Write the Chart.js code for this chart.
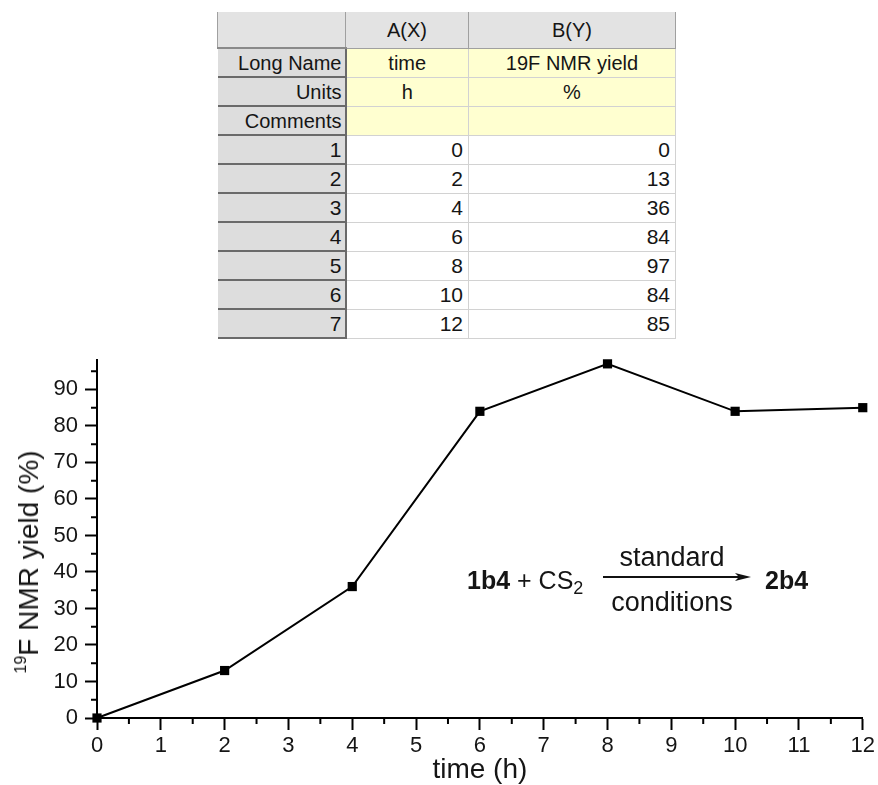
<!DOCTYPE html>
<html>
<head>
<meta charset="utf-8">
<script src="https://cdn.jsdelivr.net/npm/chart.js@4.4.1/dist/chart.umd.min.js"></script>
<style>
  html, body { margin: 0; padding: 0; background: #fff; }
  body { width: 878px; height: 785px; position: relative; overflow: hidden;
         font-family: "Liberation Sans", Arial, sans-serif; color: #151515; }

  /* worksheet */
  #sheet { position: absolute; left: 217px; top: 12px; border-collapse: collapse;
           table-layout: fixed; font-size: 20px; }
  #sheet td { padding: 0 5px; height: 27px; line-height: 20px; white-space: nowrap;
              border: 1px solid #d2d2d2; }
  #sheet tr.head td { height: 35px; background: #e3e3e3; text-align: center;
                      border: 1px solid #a0a0a0; border-top: none; }
  #sheet td.rh { background: #dddddd; text-align: right; padding-right: 3px;
                 border-right: 2px solid #6a6a6a; border-bottom: 2px solid #6a6a6a;
                 border-left: none; }
  #sheet tr.head td.rh { border-bottom: 2px solid #8a8a8a; }
  #sheet td.meta { background: #ffffd0; text-align: center; }
  #sheet td.num { background: #fff; text-align: right; font-size: 21px; }

  #chartBox { position: absolute; left: 0; top: 340px; width: 878px; height: 445px; }

  #ytitle { position: absolute; left: 29px; top: 562px; white-space: nowrap;
            font-size: 28px; transform: translate(-50%, -50%) rotate(-90deg); }
  #ytitle sup { font-size: 16px; vertical-align: 12px; line-height: 0; }

  .rx { position: absolute; font-size: 25px; line-height: 30px; white-space: nowrap; }
  .rx sub { font-size: 18px; vertical-align: -5px; line-height: 0; }
  .cond { position: absolute; width: 150px; text-align: center; font-size: 27px;
          line-height: 30px; }
</style>
</head>
<body>

<table id="sheet">
  <colgroup><col style="width:128px"><col style="width:123px"><col style="width:207px"></colgroup>
  <tbody id="sheetBody"></tbody>
</table>

<div id="chartBox"><canvas id="chart" width="878" height="445"></canvas></div>

<div id="ytitle"><sup>19</sup>F NMR yield (%)</div>

<div class="rx" style="left:467px; top:565px;"><b>1b4</b> + CS<sub>2</sub></div>
<div class="cond" style="left:597px; top:542px;">standard</div>
<svg style="position:absolute; left:603px; top:571px;" width="150" height="12">
  <line x1="0" y1="6" x2="140" y2="6" stroke="#111" stroke-width="2"/>
  <polygon points="132,2 148,6 132,10 136,6" fill="#111"/>
</svg>
<div class="cond" style="left:597px; top:587px;">conditions</div>
<div class="rx" style="left:765px; top:565px;"><b>2b4</b></div>

<script>
const colNames = ['A(X)', 'B(Y)'];
const longNames = ['time', '19F NMR yield'];
const unitNames = ['h', '%'];
const timeH = [0, 2, 4, 6, 8, 10, 12];
const yieldPct = [0, 13, 36, 84, 97, 84, 85];

const xTicks = [0, 1, 2, 3, 4, 5, 6, 7, 8, 9, 10, 11, 12];
const yTicks = [0, 10, 20, 30, 40, 50, 60, 70, 80, 90];
const xMinor = [0.5, 1.5, 2.5, 3.5, 4.5, 5.5, 6.5, 7.5, 8.5, 9.5, 10.5, 11.5];
const yMinor = [5, 15, 25, 35, 45, 55, 65, 75, 85, 95];

// worksheet rows
const body = document.getElementById('sheetBody');
let html = `<tr class="head"><td class="rh"></td><td>${colNames[0]}</td><td>${colNames[1]}</td></tr>`;
html += `<tr><td class="rh">Long Name</td><td class="meta">${longNames[0]}</td><td class="meta">${longNames[1]}</td></tr>`;
html += `<tr><td class="rh">Units</td><td class="meta">${unitNames[0]}</td><td class="meta">${unitNames[1]}</td></tr>`;
html += `<tr><td class="rh">Comments</td><td class="meta"></td><td class="meta"></td></tr>`;
timeH.forEach((t, i) => {
  html += `<tr><td class="rh" style="font-size:21px">${i + 1}</td><td class="num">${t}</td><td class="num">${yieldPct[i]}</td></tr>`;
});
body.innerHTML = html;

// short inner ticks between the labelled ones
const minorTicks = {
  id: 'minorTicks',
  afterDraw(chart) {
    const { ctx, scales: { x, y } } = chart;
    ctx.save();
    ctx.strokeStyle = '#000';
    ctx.lineWidth = 2;
    ctx.beginPath();
    xMinor.forEach(v => {
      const px = x.getPixelForValue(v);
      ctx.moveTo(px, x.top);
      ctx.lineTo(px, x.top + 6);
    });
    yMinor.forEach(v => {
      const py = y.getPixelForValue(v);
      ctx.moveTo(y.right, py);
      ctx.lineTo(y.right - 6, py);
    });
    ctx.stroke();
    ctx.restore();
  }
};

const font = '"Liberation Sans", Arial, sans-serif';
const axisGrid = { drawOnChartArea: false, drawTicks: true, tickLength: 12, tickWidth: 2, tickColor: '#000' };
const axisBorder = { display: true, color: '#000', width: 2 };

new Chart(document.getElementById('chart'), {
  type: 'line',
  data: {
    datasets: [{
      data: timeH.map((t, i) => ({ x: t, y: yieldPct[i] })),
      borderColor: '#000',
      borderWidth: 2,
      pointStyle: 'rect',
      pointRadius: 6.5,
      pointBackgroundColor: '#000',
      pointBorderWidth: 0,
      tension: 0,
      clip: false
    }]
  },
  options: {
    responsive: false,
    animation: false,
    layout: { padding: { top: 18, right: 12, left: 0, bottom: 0 } },
    plugins: { legend: { display: false }, tooltip: { enabled: false } },
    scales: {
      x: {
        type: 'linear', min: 0, max: 12,
        afterBuildTicks: s => { s.ticks = xTicks.map(v => ({ value: v })); },
        afterFit: s => { s.height = 67; },
        grid: axisGrid, border: axisBorder,
        ticks: { color: '#151515', font: { family: font, size: 22 }, padding: 3, maxRotation: 0, autoSkip: false },
        title: { display: true, text: 'time (h)', color: '#151515',
                 font: { family: font, size: 28, lineHeight: 1 }, padding: { top: 0, bottom: 1 } }
      },
      y: {
        type: 'linear', min: 0, max: 98,
        afterBuildTicks: s => { s.ticks = yTicks.map(v => ({ value: v })); },
        afterFit: s => { s.width = 97; },
        grid: axisGrid, border: axisBorder,
        ticks: { color: '#151515', font: { family: font, size: 22 }, padding: 7, autoSkip: false }
      }
    }
  },
  plugins: [minorTicks]
});
</script>
</body>
</html>
